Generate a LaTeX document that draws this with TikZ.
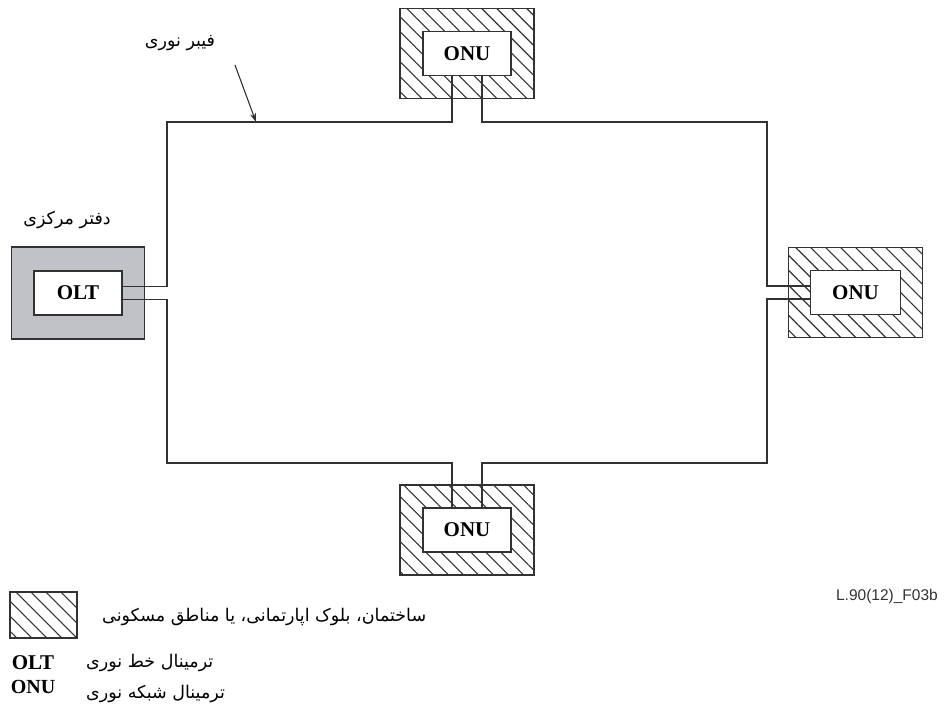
\documentclass[tikz,border=0pt]{standalone}
\usepackage{fontspec}
\setmainfont{Liberation Serif}
\newfontfamily\farsi[Script=Arabic]{DejaVu Sans}
\newfontfamily\tagfont{Liberation Sans}
\TeXXeTstate=1
\usetikzlibrary{arrows.meta,patterns.meta}
\definecolor{oltgray}{RGB}{192,194,200}
\definecolor{linegray}{RGB}{50,50,50}

\begin{document}
\begin{tikzpicture}[x=1pt,y=-1pt,
  site/.style={draw=linegray,line width=1.3pt,pattern={Lines[angle=-45,distance=10.6pt,line width=1.1pt]},pattern color=linegray,minimum width=134pt,minimum height=90pt,inner sep=0pt},
  office/.style={draw=linegray,line width=1.3pt,fill=oltgray,minimum width=133pt,minimum height=92pt,inner sep=0pt},
  unit/.style={draw=linegray,line width=1.3pt,fill=white,minimum width=88pt,minimum height=44pt,inner sep=0pt,font=\fontsize{21}{24}\selectfont\bfseries},
  fiber/.style={draw=linegray,line width=1.4pt},
  fa/.style={font=\farsi\fontsize{17.5}{20}\selectfont,inner sep=0pt}]
\useasboundingbox (0,0) rectangle (945,711);
% buildings and central office
\node[office] (officebox) at (78,293) {};
\node[site] (siteT) at (467,53.5) {};
\node[site] (siteR) at (855.5,292.5) {};
\node[site] (siteB) at (467,530) {};
\node[unit] (olt) at (officebox) {OLT};
\node[unit] (onuT) at (siteT) {ONU};
\node[unit,minimum width=90pt] (onuR) at (siteR) {ONU};
\node[unit] (onuB) at (siteB) {ONU};
% ring corners
\coordinate (nw) at (167,122);
\coordinate (ne) at (767,122);
\coordinate (sw) at (167,463);
\coordinate (se) at (767,463);
\draw[fiber] ([xshift=-15pt]onuT.south) |- (nw) |- ([yshift=6.5pt]olt.east);
\draw[fiber] ([yshift=-6.5pt]olt.east) -| (sw) -| ([xshift=-15pt]onuB.north);
\draw[fiber] ([xshift=15pt]onuB.north) |- (se) |- ([yshift=-6.5pt]onuR.west);
\draw[fiber] ([yshift=6.5pt]onuR.west) -| (ne) -| ([xshift=15pt]onuT.south);
% labels
\node[fa] (fiberlbl) at (180,43) {\beginR فیبر نوری\endR};
\coordinate (arrowtail) at (235,65);
\coordinate (arrowtip) at (256,122);
\draw[-{Stealth[length=9pt,width=6pt]},line width=1.1pt,linegray] (arrowtail) -- (arrowtip);
\node[fa] (officelbl) at (67,220) {\beginR دفتر مرکزی\endR};
\node[font=\tagfont\fontsize{15.5}{18}\selectfont,text=linegray,anchor=east,inner sep=0pt] (figtag) at (938,596) {L.90(12)\_F03b};
% legend
\node[site,minimum width=67pt,minimum height=46pt] (keysite) at (43.5,615) {};
\node[fa,anchor=west] (keysitetxt) at (102,617) {\beginR ساختمان، بلوک اپارتمانی، یا مناطق مسکونی\endR};
\node[font=\fontsize{21}{24}\selectfont\bfseries,inner sep=0pt] (keyolt) at (33,663) {OLT};
\node[font=\fontsize{20}{24}\selectfont\bfseries,inner sep=0pt] (keyonu) at (33,687) {ONU};
\node[fa,anchor=west] (keyolttxt) at (86,663) {\beginR ترمینال خط نوری\endR};
\node[fa,anchor=west] (keyonutxt) at (86,694) {\beginR ترمینال شبکه نوری\endR};
\end{tikzpicture}
\end{document}
